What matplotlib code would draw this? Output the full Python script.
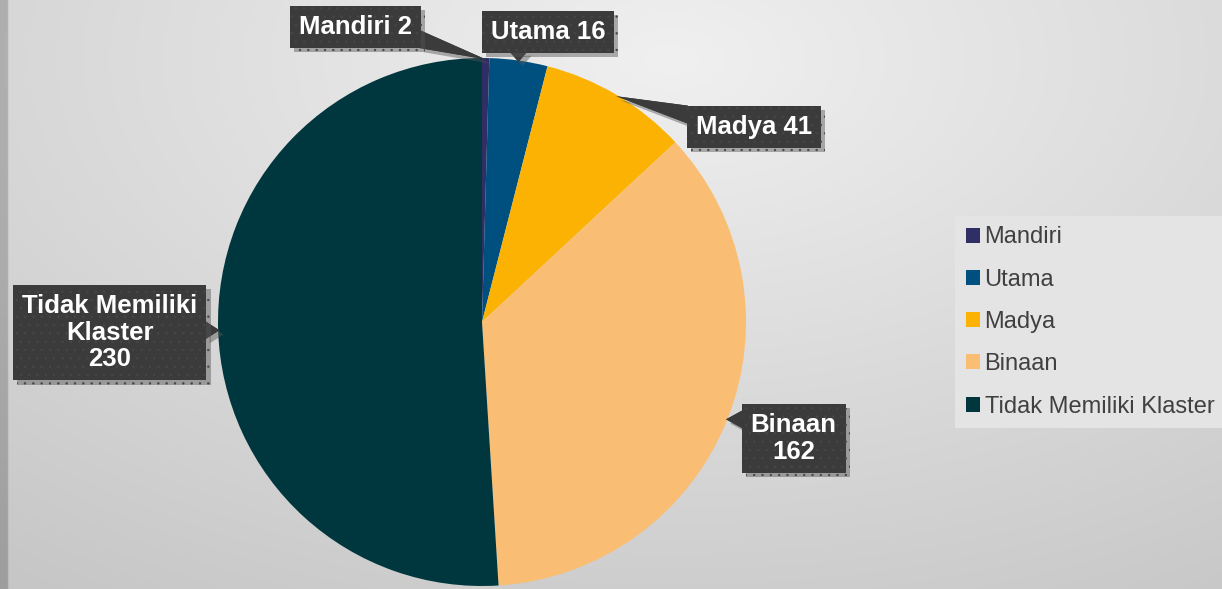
import matplotlib.pyplot as plt
import matplotlib.patheffects as pe
from matplotlib.patches import Polygon
import numpy as np

labels = ['Mandiri', 'Utama', 'Madya', 'Binaan', 'Tidak Memiliki Klaster']
values = [2, 16, 41, 162, 230]
box_text = ['Mandiri 2', 'Utama 16', 'Madya 41', 'Binaan\n162', 'Tidak Memiliki\nKlaster\n230']
colors = ['#2f2f66', '#00507f', '#fbb203', '#f9be74', '#00363d']
# where the callout boxes sit (data units, pie radius = 1)
box_pos = [(-0.48, 1.117), (0.25, 1.10), (1.03, 0.74), (1.18, -0.44), (-1.41, -0.04)]

plt.rcParams['font.family'] = ['Liberation Sans', 'DejaVu Sans']
plt.rcParams['hatch.linewidth'] = 0.5

W, H = 1222, 589
fig = plt.figure(figsize=(W / 100, H / 100), dpi=100)

# background gradient
bg = fig.add_axes([0, 0, 1, 1])
yy, xx = np.mgrid[0:1:300j, 0:1:600j]
d = np.sqrt(((xx - 0.55) * 1.2) ** 2 + (yy - 0.1) ** 2)
img = 240 - 38 * d
img[:, :4] -= 40
img = np.clip(img, 0, 255) / 255
bg.imshow(np.dstack([img, img, img]), aspect='auto', extent=[0, 1, 0, 1])
bg.axis('off')

cx, cy, r = 482, 322, 264
ax = fig.add_axes([(cx - r) / W, (H - cy - r) / H, 2 * r / W, 2 * r / H])
wedges, _ = ax.pie(values, colors=colors, startangle=90, counterclock=False,
                   radius=1, wedgeprops=dict(linewidth=0))
ax.set_xlim(-1, 1)
ax.set_ylim(-1, 1)
ax.set_aspect('equal')

shadow = [pe.withSimplePatchShadow(offset=(3, -3), shadow_rgbFace='#555555', alpha=0.45), pe.Normal()]
texts, tips = [], []
for w, txt, pos in zip(wedges, box_text, box_pos):
    ang = np.deg2rad((w.theta1 + w.theta2) / 2)
    tips.append((np.cos(ang) * 0.995, np.sin(ang) * 0.995))
    t = ax.text(pos[0], pos[1], txt, ha='center', va='center',
                fontsize=18.5, fontweight='bold', color='white',
                linespacing=1.15, clip_on=False, zorder=4,
                bbox=dict(boxstyle='square,pad=0.35', fc='#3b3b3b', ec='#474747',
                          lw=0, hatch='..'))
    t.get_bbox_patch().set_path_effects(shadow)
    texts.append(t)

# callout pointers: from the box side facing the slice to the slice edge
fig.canvas.draw()
renderer = fig.canvas.get_renderer()
inv = ax.transData.inverted()
hw = 9
for t, tip in zip(texts, tips):
    bb = t.get_bbox_patch().get_window_extent(renderer)
    tx, ty = ax.transData.transform(tip)
    bx, by = (bb.x0 + bb.x1) / 2, (bb.y0 + bb.y1) / 2
    dx, dy = tx - bx, ty - by
    if abs(dx) / bb.width > abs(dy) / bb.height:
        ex = bb.x1 - 1 if dx > 0 else bb.x0 + 1
        yc = np.clip(ty, bb.y0 + hw, bb.y1 - hw)
        base = [(ex, yc - hw), (ex, yc + hw)]
    else:
        ey = bb.y1 - 1 if dy > 0 else bb.y0 + 1
        xc = np.clip(tx, bb.x0 + hw, bb.x1 - hw)
        base = [(xc - hw, ey), (xc + hw, ey)]
    pts = inv.transform([base[0], (tx, ty), base[1]])
    p = Polygon(pts, closed=True, fc='#3b3b3b', ec='none', zorder=3.5, clip_on=False)
    p.set_path_effects(shadow)
    ax.add_patch(p)

leg = fig.legend(wedges, labels, loc='center left', bbox_to_anchor=(955 / W, 1 - 322 / H),
                 fontsize=17, labelcolor='#404040', frameon=True, fancybox=False,
                 facecolor='#e4e4e4', edgecolor='none', framealpha=1,
                 handlelength=0.6, handleheight=0.6, handletextpad=0.2,
                 labelspacing=0.86, borderpad=0.45, borderaxespad=0)

fig.savefig('out.png', dpi=100)
